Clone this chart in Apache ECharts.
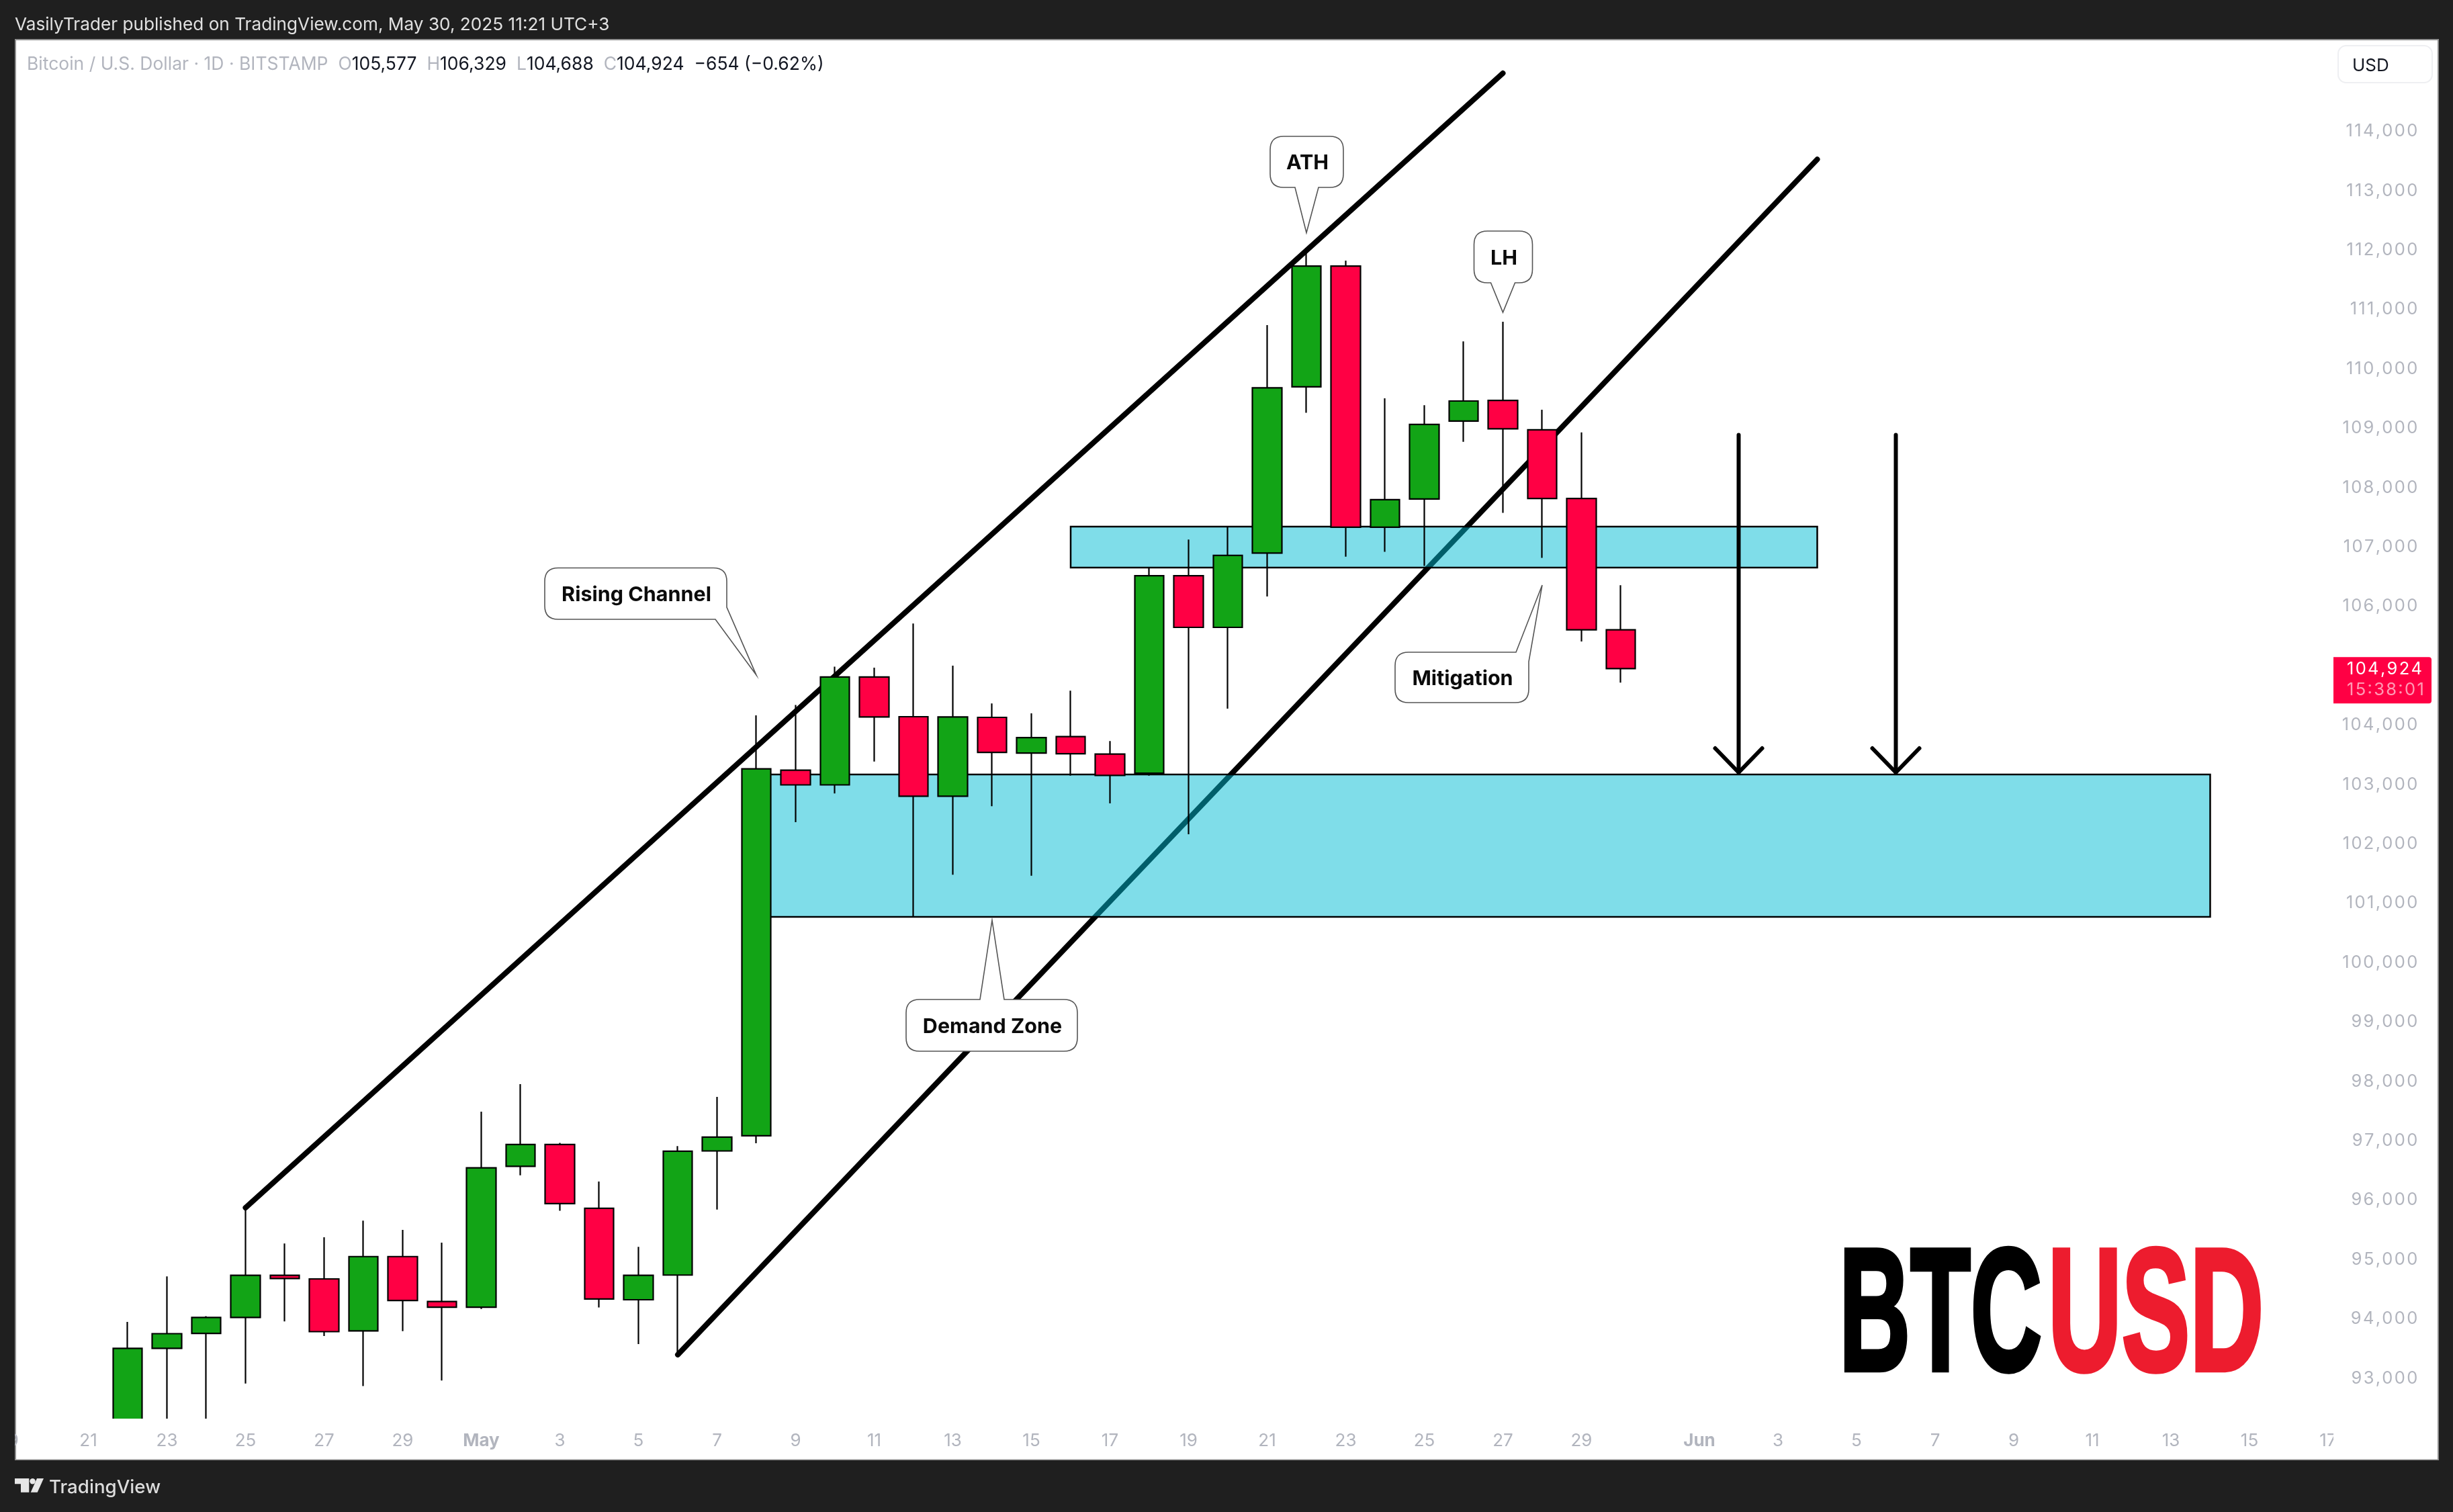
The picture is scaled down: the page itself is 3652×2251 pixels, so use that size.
<!DOCTYPE html>
<html><head><meta charset="utf-8">
<style>html,body{margin:0;padding:0;background:#1f1f1f}#c{width:3652px;height:2251px}</style>
<script src="https://cdn.jsdelivr.net/npm/echarts@6/dist/echarts.min.js"></script>
</head><body><div id="c"></div>
<script>
// ---------- data ----------
const categories = ['Apr 19','Apr 20','Apr 21','Apr 22','Apr 23','Apr 24','Apr 25','Apr 26','Apr 27','Apr 28','Apr 29','Apr 30',
 'May 1','May 2','May 3','May 4','May 5','May 6','May 7','May 8','May 9','May 10','May 11','May 12','May 13','May 14','May 15','May 16','May 17','May 18','May 19','May 20','May 21','May 22','May 23','May 24','May 25','May 26','May 27','May 28','May 29','May 30','May 31',
 'Jun 1','Jun 2','Jun 3','Jun 4','Jun 5','Jun 6','Jun 7','Jun 8','Jun 9','Jun 10','Jun 11','Jun 12','Jun 13','Jun 14','Jun 15','Jun 16','Jun 17'];
const tickDates = ['Apr 19','Apr 21','Apr 23','Apr 25','Apr 27','Apr 29','May 1','May 3','May 5','May 7','May 9','May 11','May 13','May 15','May 17','May 19','May 21','May 23','May 25','May 27','May 29','Jun 1','Jun 3','Jun 5','Jun 7','Jun 9','Jun 11','Jun 13','Jun 15','Jun 17'];
const tickTexts = ['19','21','23','25','27','29','May','3','5','7','9','11','13','15','17','19','21','23','25','27','29','Jun','3','5','7','9','11','13','15','17'];
const priceTicks = [93000,94000,95000,96000,97000,98000,99000,100000,101000,102000,103000,104000,105000,106000,107000,108000,109000,110000,111000,112000,113000,114000];

const candleDates = ['Apr 22','Apr 23','Apr 24','Apr 25','Apr 26','Apr 27','Apr 28','Apr 29','Apr 30','May 1','May 2','May 3','May 4','May 5','May 6','May 7','May 8','May 9','May 10','May 11','May 12','May 13','May 14','May 15','May 16','May 17','May 18','May 19','May 20','May 21','May 22','May 23','May 24','May 25','May 26','May 27','May 28','May 29','May 30'];
const opens  = [87500,93476,93727,93995,94705,94645,93770,95021,94264,94168,96541,96909,95835,94294,94710,96800,97056,103213,102965,104783,104113,102774,104102,103501,103779,103484,103163,106488,105618,106870,109668,111703,107304,107779,109092,109440,108945,107789,105577];
const closes = [93476,93723,93995,94705,94653,93757,95021,94281,94168,96515,96909,95913,94307,94705,96796,97034,103236,102965,104783,104108,102774,104108,103513,103761,103490,103126,106488,105618,106830,109653,111703,107304,107769,109036,109430,108961,107789,105577,104924];
const lows   = [87100,92000,91700,92883,93930,93684,92840,93766,92935,94138,96389,95792,94164,93549,93368,95813,96930,102336,102820,103357,100742,101453,102607,101435,103121,102653,103120,102133,104249,106138,109233,106809,106890,106653,108743,107547,106789,105380,104688];
const highs  = [93922,94688,94017,95844,95242,95346,95627,95471,95255,97463,97926,96935,96285,95186,96883,97710,104136,104310,104956,104939,105683,104973,104338,104171,104552,103704,106613,107097,107309,110708,111964,111794,109476,109360,110435,110764,109284,108900,106329];

const channelUpperDates = ['Apr 25','May 27'];
const channelUpperPrices = [95844,114950];
const channelLowerDates = ['May 6','Jun 4'];
const channelLowerPrices = [93368,113500];

const zoneStarts = ['May 16','May 8'];
const zoneEnds = ['Jun 4','Jun 14'];
const zoneTops = [107315,103140];
const zoneBottoms = [106624,100742];

const arrowDates = ['Jun 2','Jun 6'];
const arrowFrom = [108860,108860];
const arrowTo = [103174,103174];

const calloutTexts = ['ATH','LH','Rising Channel','Demand Zone','Mitigation'];
const calloutDates = ['May 22','May 27','May 8','May 14','May 28'];
const calloutPrices = [112264,110923,104814,100686,106330];

const lastPriceText = '104,924';
const countdownText = '15:38:01';

// ---------- page furniture ----------
const FONT = 'Inter, "Noto Sans", sans-serif';
const GREY = '#B2B5BE';
const FRAME = '#1f1f1f';
const idx = d => categories.indexOf(d);
const tracked = s => [...s].join('\u200a');
const f = n => tracked(n.toLocaleString('en-US'));

// callout shapes in pixels, relative to the tip
const calloutShapes = [
 {x0:-54,x1:55,y0:-143.5,y1:-67.5,kind:'bottom',a:-17,b:18},
 {x0:-43,x1:44,y0:-121,y1:-44,kind:'bottom',a:-18,b:18},
 {x0:-315,x1:-44,y0:-159.5,y1:-83,kind:'br',a:-101,b:-61},
 {x0:-128,x1:127,y0:118,y1:195,kind:'top',a:-18,b:18},
 {x0:-219,x1:-20,y0:100,y1:175,kind:'tr',a:-39,b:114}
];
function calloutPath(s,tx,ty){
 const r=20,x0=tx+s.x0,x1=tx+s.x1,y0=ty+s.y0,y1=ty+s.y1;
 let p=`M${x0+r} ${y0}`;
 if(s.kind==='top') p+=`L${tx+s.a} ${y0}L${tx} ${ty}L${tx+s.b} ${y0}`;
 if(s.kind==='tr') p+=`L${tx+s.a} ${y0}L${tx} ${ty}L${x1} ${ty+s.b}`;
 else p+=`L${x1-r} ${y0}Q${x1} ${y0} ${x1} ${y0+r}`;
 if(s.kind==='br') p+=`L${x1} ${ty+s.a}L${tx} ${ty}L${tx+s.b} ${y1}`;
 else p+=`L${x1} ${y1-r}Q${x1} ${y1} ${x1-r} ${y1}`;
 if(s.kind==='bottom') p+=`L${tx+s.b} ${y1}L${tx} ${ty}L${tx+s.a} ${y1}`;
 p+=`L${x0+r} ${y1}Q${x0} ${y1} ${x0} ${y1-r}L${x0} ${y0+r}Q${x0} ${y0} ${x0+r} ${y0}Z`;
 return p;
}

const chart = echarts.init(document.getElementById('c'),null,{renderer:'canvas',width:3652,height:2251});
const rect=(x,y,w,h,fill,z)=>({type:'rect',z,silent:true,shape:{x,y,width:w,height:h},style:{fill}});

chart.setOption({
 animation:false,
 backgroundColor:FRAME,
 grid:{left:-14.75,top:59,width:3510,height:2053,containLabel:false,outerBoundsMode:'none'},
 xAxis:{type:'category',data:categories,boundaryGap:true,z:20,
  axisLine:{show:false},axisTick:{show:false},splitLine:{show:false},
  axisLabel:{color:GREY,fontFamily:FONT,fontSize:26,margin:20,hideOverlap:false,
   interval:(i,v)=>tickDates.includes(v),
   formatter:v=>{const t=tickTexts[tickDates.indexOf(v)];return /[a-z]/.test(t)?`{b|${t}}`:t;},
   rich:{b:{color:GREY,fontFamily:FONT,fontSize:26,fontWeight:700}}}},
 yAxis:{type:'value',position:'right',min:92292,max:115516,
  axisLine:{show:false},axisTick:{show:false},splitLine:{show:false},
  axisLabel:{color:GREY,fontFamily:FONT,fontSize:25.5,align:'right',margin:104,
   customValues:priceTicks,formatter:v=>`{p|${f(v)}}`,
   rich:{p:{color:GREY,fontFamily:FONT,fontSize:25.5,padding:[5,0,0,0]}}}},
 graphic:{elements:[
  {type:'rect',z:-1,silent:true,shape:{x:23,y:59,width:3607,height:2114},style:{fill:'#fff',stroke:'#8f8f8f',lineWidth:2}},
  // time-axis strip: candles that run below the pane end at its edge
  rect(24,2112,3605,61,'#fff',10),
  rect(22,2172.5,3609,1.5,'#8f8f8f',95),
  rect(0,0,22,2251,FRAME,100), rect(3631,0,21,2251,FRAME,100), rect(0,0,3652,58,FRAME,100), rect(0,2174,3652,77,FRAME,100),
  rect(3474,2113,150,58,'#fff',90),
  {type:'text',z:110,silent:true,x:22,y:37,style:{text:'VasilyTrader published on TradingView.com, May 30, 2025 11:21 UTC+3',font:'26.2px '+FONT,fill:'#e0e0e0',verticalAlign:'middle'}},
  {type:'text',z:110,silent:true,x:40,y:96,style:{verticalAlign:'middle',
    text:'{g|Bitcoin / U.S. Dollar · 1D · BITSTAMP  O}{k|105,577  }{g|H}{k|106,329  }{g|L}{k|104,688  }{g|C}{k|104,924  −654 (−0.62%)}',
    rich:{g:{font:'26.5px '+FONT,fill:GREY},k:{font:'26.5px '+FONT,fill:'#131722'}}}},
  {type:'rect',z:110,silent:true,shape:{x:3481,y:68,width:140,height:55,r:12},style:{fill:'#fff',stroke:'#eeeff2',lineWidth:2}},
  {type:'text',z:111,silent:true,x:3502,y:98,style:{text:'USD',font:'26px '+FONT,fill:'#131722',verticalAlign:'middle'}},
  {type:'text',z:50,silent:true,x:2738,y:2098,scaleX:0.565,style:{text:'BTC',font:'bold 260px "Liberation Sans"',fill:'#000',stroke:'#000',lineWidth:7,verticalAlign:'bottom',shadowBlur:36,shadowColor:'rgba(0,0,0,0.28)',shadowOffsetY:12}},
  {type:'text',z:50,silent:true,x:3049,y:2098,scaleX:0.585,style:{text:'USD',font:'bold 260px "Liberation Sans"',fill:'#ED1C2E',stroke:'#ED1C2E',lineWidth:7,verticalAlign:'bottom',shadowBlur:36,shadowColor:'rgba(0,0,0,0.28)',shadowOffsetY:12}},
  {type:'polygon',z:110,silent:true,shape:{points:[[22,2201],[43.3,2201],[43.3,2221.7],[31,2221.7],[31,2209.3],[22,2209.3]]},style:{fill:'#e6e6e6'}},
  {type:'circle',z:110,silent:true,shape:{cx:48.5,cy:2205.2,r:4.2},style:{fill:'#e6e6e6'}},
  {type:'polygon',z:110,silent:true,shape:{points:[[55,2201],[65,2201],[55.7,2221.7],[45.7,2221.7]]},style:{fill:'#e6e6e6'}},
  {type:'text',z:110,silent:true,x:73,y:2215,style:{text:'TradingView',font:'500 27.7px '+FONT,fill:'#dcdcdc',verticalAlign:'middle'}}
 ]},
 series:[
  {name:'Channel upper',type:'line',z:1,symbol:'none',lineStyle:{color:'#000',width:8,cap:'round'},
   data:channelUpperDates.map((d,i)=>[d,channelUpperPrices[i]])},
  {name:'Channel lower',type:'line',z:1,symbol:'none',lineStyle:{color:'#000',width:8,cap:'round'},
   data:channelLowerDates.map((d,i)=>[d,channelLowerPrices[i]])},
  {name:'Zones',type:'custom',z:2,encode:{x:[0,1],y:[2,3]},
   data:zoneStarts.map((d,i)=>[idx(d),idx(zoneEnds[i]),zoneTops[i],zoneBottoms[i]]),
   renderItem:(p,api)=>{
    const a=api.coord([api.value(0),api.value(2)]),b=api.coord([api.value(1),api.value(3)]);
    return {type:'rect',shape:{x:a[0],y:a[1],width:b[0]-a[0],height:b[1]-a[1]},
     style:{fill:'rgba(0,188,212,0.5)',stroke:'#000',lineWidth:2.5}};
   }},
  {name:'BTCUSD',type:'candlestick',z:3,barWidth:44,clip:true,
   itemStyle:{color:'#12A416',color0:'#FF0044',borderColor:'#000',borderColor0:'#000',borderWidth:2.2},
   data:categories.map(c=>{const i=candleDates.indexOf(c);return i<0?['-','-','-','-']:[opens[i],closes[i],lows[i],highs[i]];})},
  {name:'Arrows',type:'custom',z:4,encode:{x:0,y:[1,2]},
   data:arrowDates.map((d,i)=>[idx(d),arrowFrom[i],arrowTo[i]]),
   renderItem:(p,api)=>{
    const s=api.coord([api.value(0),api.value(1)]),e=api.coord([api.value(0),api.value(2)]);
    const st={stroke:'#000',lineWidth:6,lineCap:'round',lineJoin:'round',fill:null};
    return {type:'group',children:[
     {type:'line',shape:{x1:s[0],y1:s[1],x2:e[0],y2:e[1]},style:st},
     {type:'polyline',shape:{points:[[e[0]-35,e[1]-36],[e[0],e[1]],[e[0]+35,e[1]-36]]},style:st}]};
   }},
  {name:'Callouts',type:'custom',z:5,encode:{x:0,y:1},clip:false,
   data:calloutTexts.map((t,i)=>[idx(calloutDates[i]),calloutPrices[i]]),
   renderItem:(p,api)=>{
    const c=api.coord([api.value(0),api.value(1)]),s=calloutShapes[p.dataIndex];
    return {type:'group',children:[
     {type:'path',shape:{pathData:calloutPath(s,c[0],c[1])},style:{fill:'#fff',stroke:'#555',lineWidth:1.6}},
     {type:'text',style:{x:c[0]+(s.x0+s.x1)/2+1,y:c[1]+(s.y0+s.y1)/2+2,text:calloutTexts[p.dataIndex],font:'700 30.5px '+FONT,fill:'#0b0b0b',align:'center',verticalAlign:'middle'}}]};
   }},
  {name:'Last price',type:'custom',z:6,encode:{y:1},clip:false,
   data:[[idx(candleDates[candleDates.length-1]),closes[closes.length-1]]],
   renderItem:(p,api)=>{
    const c=api.coord([api.value(0),api.value(1)]);
    return {type:'group',children:[
     {type:'rect',shape:{x:3474,y:c[1]-17,width:146,height:69,r:[0,4,4,0]},style:{fill:'#FF0044'}},
     {type:'text',style:{x:3494,y:c[1]+1,text:tracked(lastPriceText),font:'25.5px '+FONT,fill:'#fff',verticalAlign:'middle'}},
     {type:'text',style:{x:3494,y:c[1]+32,text:tracked(countdownText),font:'25.5px '+FONT,fill:'rgba(255,255,255,0.6)',verticalAlign:'middle'}}]};
   }}
 ]
});
</script></body></html>
